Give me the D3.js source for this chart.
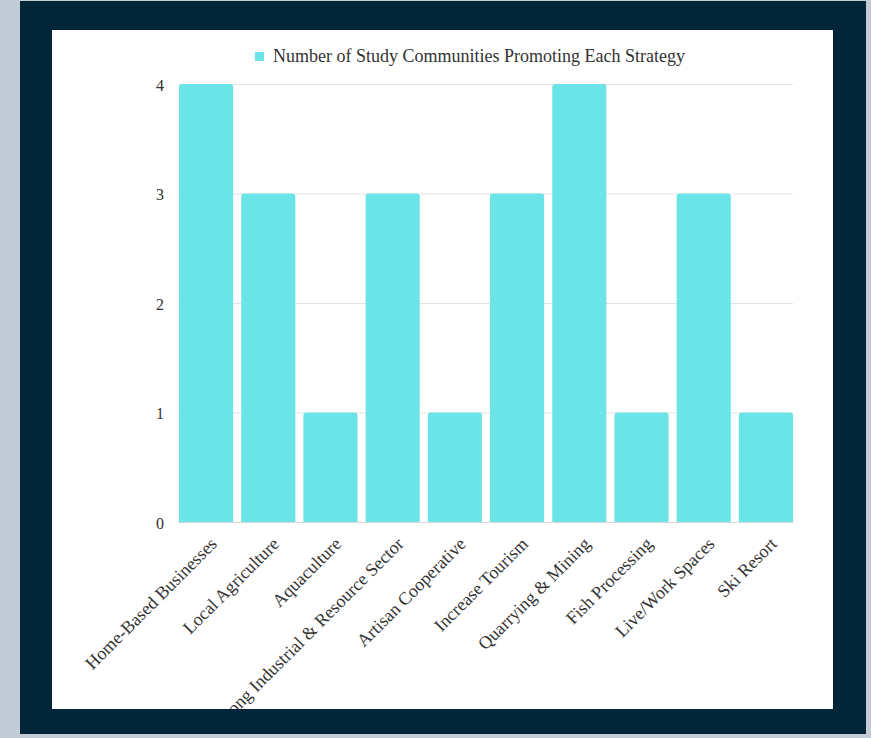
<!DOCTYPE html>
<html>
<head>
<meta charset="utf-8">
<script src="https://cdn.jsdelivr.net/npm/d3@7"></script>
<style>
    body { margin: 0; background: #c3ccd6; }
    svg { display: block; }
</style>
</head>
<body>
<svg id="chart" width="871" height="738"></svg>
<script>
// Chart data
const strategies = [
    "Home-Based Businesses", "Local Agriculture", "Aquaculture",
    "Strong Industrial & Resource Sector", "Artisan Cooperative", "Increase Tourism",
    "Quarrying & Mining", "Fish Processing", "Live/Work Spaces", "Ski Resort"
];
const communities = [4, 3, 1, 3, 1, 3, 4, 1, 3, 1];
const yTicks = [0, 1, 2, 3, 4];
const seriesName = "Number of Study Communities Promoting Each Strategy";

const font = "'Liberation Serif', 'Times New Roman', serif";
const svg = d3.select("#chart")
    .style("font-family", font);

// dark frame + white panel
svg.append("rect").attr("x", 20).attr("y", 1).attr("width", 846).attr("height", 733).attr("fill", "#02253a");
svg.append("rect").attr("x", 52).attr("y", 30).attr("width", 781).attr("height", 679).attr("fill", "#fff");

svg.append("clipPath").attr("id", "panel")
    .append("rect").attr("x", 52).attr("y", 30).attr("width", 781).attr("height", 679);

const g = svg.append("g").attr("clip-path", "url(#panel)");

const x = d3.scaleBand()
    .domain(strategies)
    .range([179, 793])
    .paddingInner(0.13)
    .paddingOuter(0);

const y = d3.scaleLinear()
    .domain([0, 4])
    .range([522, 84]);

// gridlines
g.append("g")
    .selectAll("line")
    .data(yTicks)
    .enter().append("line")
    .attr("x1", 178)
    .attr("x2", 793)
    .attr("y1", d => y(d) + 0.5)
    .attr("y2", d => y(d) + 0.5)
    .attr("stroke", d => d === 0 ? "#d6d6d6" : "#e3e3e3")
    .attr("stroke-width", 1);

// y tick labels
g.append("g")
    .selectAll("text")
    .data(yTicks)
    .enter().append("text")
    .attr("x", 164)
    .attr("y", d => y(d) + 1)
    .attr("dy", "0.35em")
    .attr("text-anchor", "end")
    .attr("fill", "#333")
    .style("font-size", "16px")
    .text(d => d);

// bars with rounded tops
const r = 3;
g.append("g")
    .selectAll("path")
    .data(communities)
    .enter().append("path")
    .attr("fill", "#6ae4e7")
    .attr("d", (d, i) => {
        const x0 = x(strategies[i]), w = x.bandwidth();
        const top = y(d), base = y(0);
        return `M${x0},${base}V${top + r}Q${x0},${top} ${x0 + r},${top}` +
               `H${x0 + w - r}Q${x0 + w},${top} ${x0 + w},${top + r}V${base}Z`;
    });

// x labels
g.append("g")
    .selectAll("text")
    .data(strategies)
    .enter().append("text")
    .attr("text-anchor", "end")
    .attr("fill", "#333")
    .attr("transform", d => `translate(${x(d) + x.bandwidth() / 2 + 12},545) rotate(-45)`)
    .style("font-size", "18px")
    .text(d => d);

// legend
const legend = g.append("g");
legend.append("rect")
    .attr("x", 255).attr("y", 52).attr("width", 9).attr("height", 9)
    .attr("fill", "#6ae4e7");
legend.append("text")
    .attr("x", 273).attr("y", 62)
    .attr("fill", "#333")
    .style("font-size", "18px")
    .text(seriesName);
</script>
</body>
</html>
